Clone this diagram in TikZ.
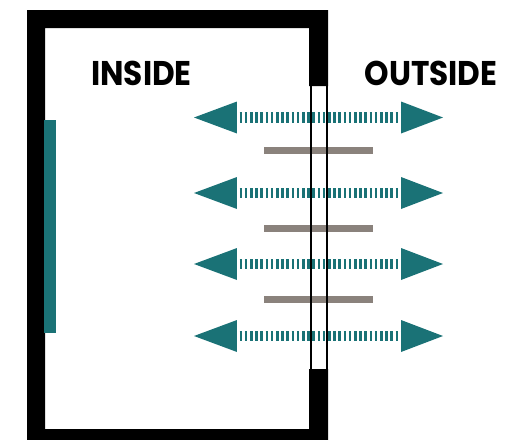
\documentclass[tikz,border=0pt]{standalone}
\usepackage{fontspec}
\setmainfont{Poppins}
\usepackage{xcolor}
\usetikzlibrary{arrows.meta}
\definecolor{flowteal}{HTML}{1A7276}
\definecolor{bargrey}{HTML}{8A827C}

\begin{document}
\begin{tikzpicture}[x=0.02cm,y=-0.02cm,
  wall/.style={fill=black},
  panel/.style={fill=flowteal},
  bar/.style={bargrey,line width=0.14cm},
  frame/.style={black,line width=0.036cm},
  flow/.style={flowteal,line width=0.21cm,dash pattern=on 0.05cm off 0.054cm,dash phase=0.05cm,
    {Triangle[length=0.86cm,width=0.64cm,line width=0pt]}-{Triangle[length=0.84cm,width=0.64cm,line width=0pt]}},
  lbl/.style={font=\fontsize{19.5}{22}\selectfont\bfseries,text=black,inner sep=0pt,xscale=0.91}]
\useasboundingbox (0,0) rectangle (515,440);
% wall, open on the right between the two window ends
\fill[wall] (27,10) -- (328,10) -- (328,86) -- (309,86) -- (309,28) -- (45,28) -- (45,429)
  -- (309,429) -- (309,369) -- (328,369) -- (328,440) -- (27,440) -- cycle;
\fill[panel] (44,120) rectangle (56,333);
\node[lbl] (inside) at (141.5,73) {INSIDE};
\node[lbl] (outside) at (431,73) {OUTSIDE};
% ends of the flows
\coordinate (in1) at (194,117.5);
\coordinate (out1) at (443,117.5);
\coordinate (in2) at (194,193);
\coordinate (out2) at (443,193);
\coordinate (in3) at (194,264);
\coordinate (out3) at (443,264);
\coordinate (in4) at (194,336);
\coordinate (out4) at (443,336);
\draw[flow] (in1) -- (out1);
\draw[flow] (in2) -- (out2);
\draw[flow] (in3) -- (out3);
\draw[flow] (in4) -- (out4);
% shelves between the flows
\draw[bar] (264,150.5) -- (373,150.5);
\draw[bar] (264,228.5) -- (373,228.5);
\draw[bar] (264,299.5) -- (373,299.5);
% window edges go over everything
\draw[frame] (311,86) -- (311,369);
\draw[frame] (327,86) -- (327,369);
\end{tikzpicture}
\end{document}
